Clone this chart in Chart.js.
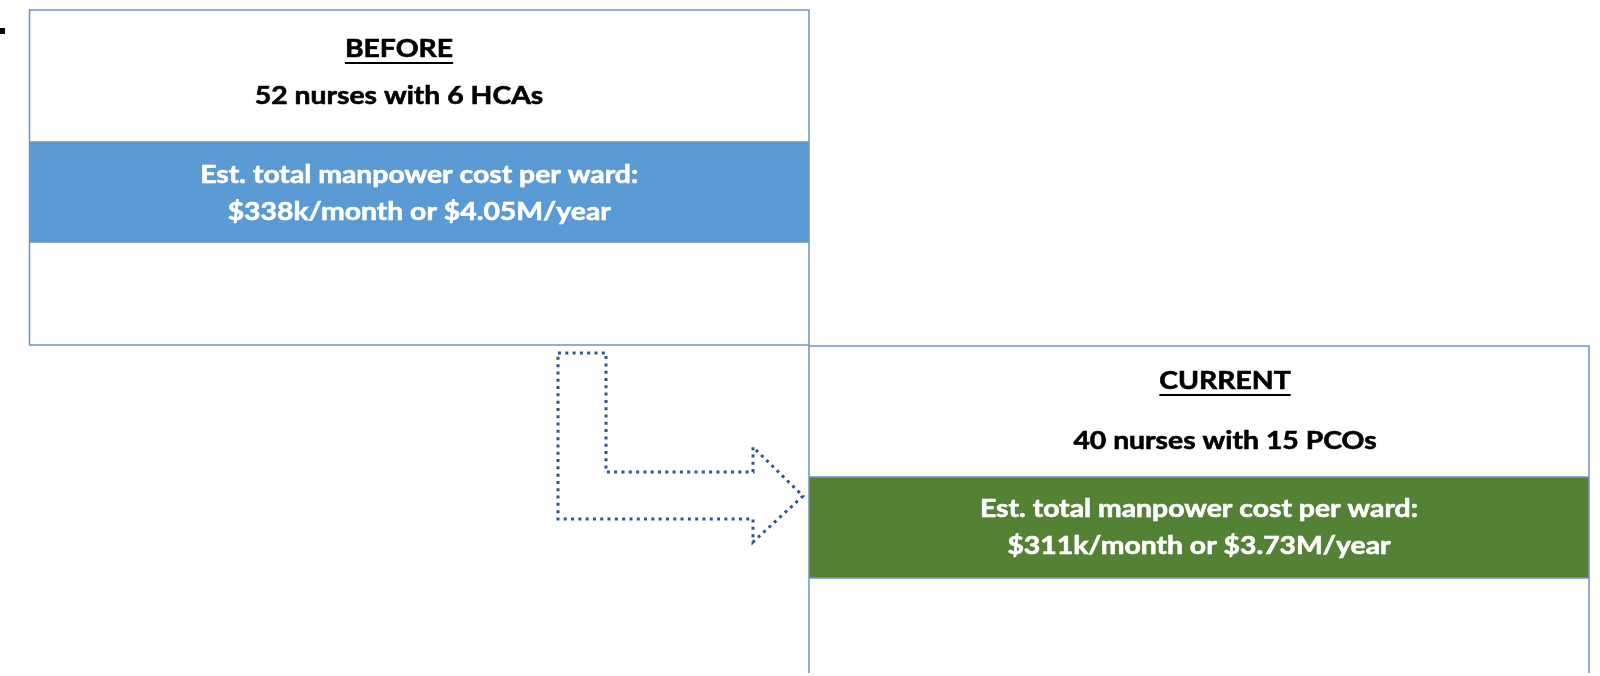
<!DOCTYPE html>
<html>
<head>
<meta charset="utf-8">
<script src="https://cdn.jsdelivr.net/npm/chart.js@4/dist/chart.umd.min.js"></script>
<style>
  html, body { margin: 0; padding: 0; background: #fff; }
  canvas { display: block; }
</style>
</head>
<body>
<canvas id="diagram" width="1600" height="676"></canvas>
<script>
// data
var panelTitles = ['BEFORE', 'CURRENT'];
var nurses = [52, 40];
var supportStaff = [6, 15];
var supportRoles = ['HCAs', 'PCOs'];
var costPerMonthK = [338, 311];
var costPerYearM = [4.05, 3.73];

// layout, in axis units (1 unit = 1 px)
var panelBoxes = [
  { x0: 29.5, x1: 809, y0: 10, y1: 345, band0: 142, band1: 242, headCx: 399, titleY: 49, staffY: 96, costY: [175, 212] },
  { x0: 809, x1: 1589, y0: 346, y1: 673, band0: 477, band1: 578, headCx: 1225, titleY: 381, staffY: 441, costY: [509, 546] }
];
var bandColours = ['#5B9BD5', '#548235'];
var arrowX = [558, 606, 606, 753, 753, 803, 753, 753, 558];
var arrowY = [353, 353, 472, 472, 447, 496, 542, 519, 519];

var FONT = 'bold 24px Lato, "Open Sans", sans-serif';
var FIT_TEXT = 'Est. total manpower cost per ward:';
var FIT_WIDTH = 438;

function drawText(ctx, text, cx, cy, colour, squeeze, underline) {
  ctx.save();
  ctx.font = FONT;
  ctx.fillStyle = colour;
  ctx.strokeStyle = colour;
  ctx.lineWidth = 0.6;
  ctx.textAlign = 'center';
  ctx.textBaseline = 'middle';
  ctx.translate(cx, cy);
  ctx.scale(squeeze, 1);
  ctx.fillText(text, 0, 0);
  ctx.strokeText(text, 0, 0);
  if (underline) {
    var w = ctx.measureText(text).width;
    ctx.fillRect(-w / 2, 13, w, 2);
  }
  ctx.restore();
}

var diagramPlugin = {
  id: 'diagram',
  afterDraw: function(chart) {
    var ctx = chart.ctx;
    var xs = chart.scales.x, ys = chart.scales.y;
    var px = function(v) { return xs.getPixelForValue(v); };
    var py = function(v) { return ys.getPixelForValue(v); };

    ctx.save();
    ctx.font = FONT;
    var squeeze = FIT_WIDTH / ctx.measureText(FIT_TEXT).width;
    ctx.restore();

    // small black bullet at the left edge
    ctx.fillStyle = '#000';
    ctx.fillRect(px(0), py(28), px(5) - px(0), py(34) - py(28));

    panelBoxes.forEach(function(b, i) {
      var l = px(b.x0), r = px(b.x1), t = py(b.y0), btm = py(b.y1);
      ctx.fillStyle = '#fff';
      ctx.fillRect(l, t, r - l, btm - t);
      ctx.fillStyle = bandColours[i];
      ctx.fillRect(l, py(b.band0), r - l, py(b.band1) - py(b.band0));

      ctx.strokeStyle = '#7393BE';
      ctx.lineWidth = 1.5;
      ctx.beginPath();
      ctx.moveTo(l, py(b.band0)); ctx.lineTo(r, py(b.band0));
      ctx.moveTo(l, py(b.band1)); ctx.lineTo(r, py(b.band1));
      ctx.stroke();
      ctx.beginPath();
      if (i === 1) {
        // bottom of the lower box runs off the slide
        ctx.moveTo(l, btm); ctx.lineTo(l, t); ctx.lineTo(r, t); ctx.lineTo(r, btm);
      } else {
        ctx.rect(l, t, r - l, btm - t);
      }
      ctx.stroke();

      var cx = (l + r) / 2;
      var hx = px(b.headCx);
      drawText(ctx, panelTitles[i], hx, py(b.titleY), '#000', squeeze, true);
      drawText(ctx, nurses[i] + ' nurses with ' + supportStaff[i] + ' ' + supportRoles[i],
        hx, py(b.staffY), '#000', squeeze, false);
      drawText(ctx, 'Est. total manpower cost per ward:', cx, py(b.costY[0]), '#fff', squeeze, false);
      drawText(ctx, '$' + costPerMonthK[i] + 'k/month or $' + costPerYearM[i].toFixed(2) + 'M/year',
        cx, py(b.costY[1]), '#fff', squeeze, false);
    });

    // dotted bent arrow between the two boxes
    ctx.save();
    ctx.strokeStyle = '#2F5597';
    ctx.lineWidth = 3;
    ctx.setLineDash([3, 4.3]);
    ctx.lineCap = 'butt';
    ctx.beginPath();
    arrowX.forEach(function(x, k) {
      if (k === 0) ctx.moveTo(px(x), py(arrowY[k]));
      else ctx.lineTo(px(x), py(arrowY[k]));
    });
    ctx.closePath();
    ctx.stroke();
    ctx.restore();
  }
};

new Chart(document.getElementById('diagram').getContext('2d'), {
  type: 'scatter',
  data: { datasets: [{ data: [] }] },
  options: {
    responsive: false,
    animation: false,
    layout: { padding: 0 },
    plugins: { legend: { display: false }, tooltip: { enabled: false } },
    scales: {
      x: { type: 'linear', min: 0, max: 1600, display: false },
      y: { type: 'linear', min: 0, max: 676, reverse: true, display: false }
    }
  },
  plugins: [diagramPlugin]
});
</script>
</body>
</html>
